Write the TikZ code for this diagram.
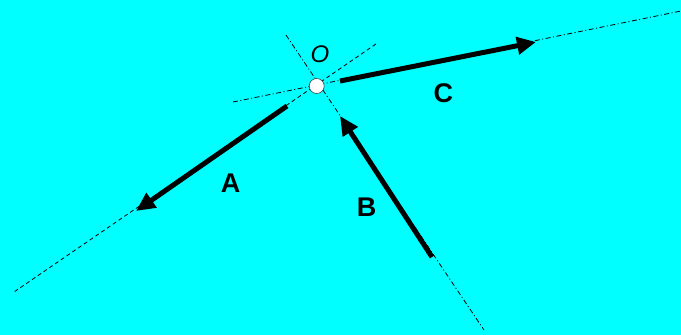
\documentclass[tikz,border=0pt]{standalone}
\usepackage{fontspec}
\setmainfont{Liberation Sans}
\usetikzlibrary{arrows.meta}
\definecolor{bgcyan}{HTML}{00FFFF}
\begin{document}
\begin{tikzpicture}[x=1pt,y=-1pt,
  dashline/.style={line width=0.8pt,dash pattern=on 4pt off 3pt},
  dotdash/.style={line width=0.8pt,dash pattern=on 5pt off 2.5pt on 1pt off 2.5pt},
  vec/.style={line width=5pt,-{Triangle[length=19pt,width=17pt]}},
  vlabel/.style={font=\fontsize{27}{27}\selectfont\bfseries,inner sep=0pt},
  pivot/.style={circle,draw=black!75,fill=white,line width=0.6pt,minimum size=15pt,inner sep=0pt}]
\fill[bgcyan] (0,0) rectangle (681,335);
\useasboundingbox (0,0) rectangle (681,335);
% line ends
\coordinate (a1) at (376,44);
\coordinate (a2) at (14,292);
\coordinate (b1) at (286,35);
\coordinate (b2) at (484,330);
\coordinate (c1) at (233,102);
\coordinate (c2) at (681,11);
% arrow ends
\coordinate (As) at (287,106);
\coordinate (At) at (136,211);
\coordinate (Bs) at (432,257);
\coordinate (Bt) at (340,116);
\coordinate (Cs) at (340,81);
\coordinate (Ct) at (536,42);
% lines of action
\draw[dashline] (a1) -- (a2);
\draw[dotdash] (b1) -- (b2);
\draw[dotdash] (c1) -- (c2);
% pivot
\node[pivot] (O) at (316.7,86) {};
\node[font=\fontsize{24}{24}\selectfont\itshape,inner sep=0pt] (Olab) at (320,54) {O};
% vectors
\draw[vec] (As) -- (At);
\draw[vec] (Bs) -- (Bt);
\draw[vec] (Cs) -- (Ct);
% labels
\node[vlabel] (Alab) at (230.7,183.5) {A};
\node[vlabel] (Blab) at (366.7,207.5) {B};
\node[vlabel] (Clab) at (443.3,93) {C};
\end{tikzpicture}
\end{document}
